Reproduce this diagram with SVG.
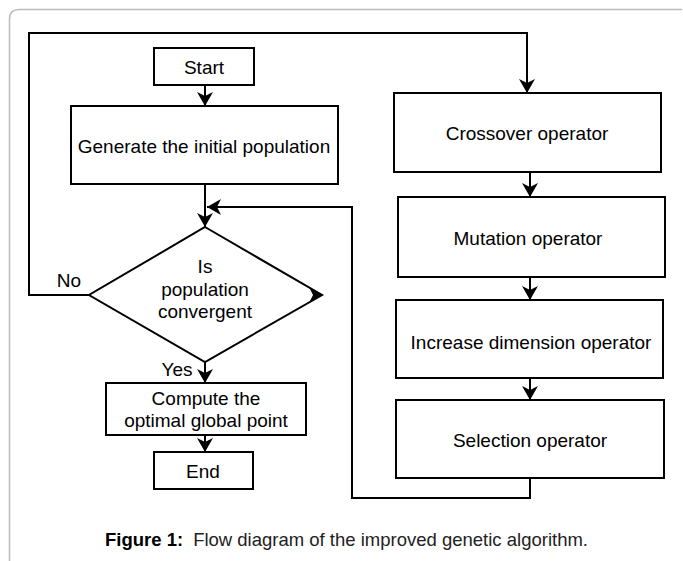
<svg xmlns="http://www.w3.org/2000/svg" width="683" height="561" viewBox="0 0 683 561">
<style>
.box{fill:#fff;stroke:#000;stroke-width:2}
.ln{fill:none;stroke:#000;stroke-width:2}
.t{font-family:"Liberation Sans",Arial,sans-serif;font-size:19px;fill:#000;text-anchor:middle}
.cap{font-family:"Liberation Sans",Arial,sans-serif;font-size:18.5px;fill:#222}
</style>
<defs>
<marker id="ah" markerUnits="userSpaceOnUse" markerWidth="16" markerHeight="18" viewBox="-14 -9 16 18" refX="0" refY="0" orient="auto">
<path d="M0,0 L-14,-8 L-10,0 L-14,8 Z" fill="#000"/>
</marker>
</defs>
<rect width="683" height="561" fill="#fff"/>
<path d="M9.5,561 V19 Q9.5,9.5 19,9.5 H682" fill="none" stroke="#bbb" stroke-width="1.5"/>
<g id="connectors">
<line class="ln" x1="205" y1="85" x2="205" y2="106" marker-end="url(#ah)"/>
<line class="ln" x1="205" y1="184" x2="205" y2="227" marker-end="url(#ah)"/>
<polyline class="ln" points="530,478 530,498 352,498 352,207 207,207" marker-end="url(#ah)"/>
<polyline class="ln" points="90,295 29,295 29,33 527,33 527,93" marker-end="url(#ah)"/>
<line class="ln" x1="205" y1="362" x2="205" y2="383" marker-end="url(#ah)"/>
<line class="ln" x1="205" y1="435" x2="205" y2="452" marker-end="url(#ah)"/>
<line class="ln" x1="530" y1="172" x2="530" y2="197" marker-end="url(#ah)"/>
<line class="ln" x1="530" y1="277" x2="530" y2="300" marker-end="url(#ah)"/>
<line class="ln" x1="530" y1="378" x2="530" y2="400" marker-end="url(#ah)"/>
<text class="t" x="69" y="287">No</text>
<text class="t" x="177" y="376">Yes</text>
</g>
<g id="start"><rect class="box" x="154" y="48" width="100" height="37"/><text class="t" x="204" y="73.5">Start</text></g>
<g id="generate"><rect class="box" x="71" y="106" width="267" height="78"/><text class="t" x="204" y="153">Generate the initial population</text></g>
<g id="decision"><polygon class="box" points="205,227 322,295 205,362 89,295"/>
<path d="M323,295 L309,287 L313,295 L309,303 Z" fill="#000"/>
<text class="t" x="205" y="273">Is</text><text class="t" x="205" y="296">population</text><text class="t" x="205" y="318">convergent</text></g>
<g id="compute"><rect class="box" x="106" y="383" width="200" height="52"/><text class="t" x="206" y="405">Compute the</text><text class="t" x="206" y="427">optimal global point</text></g>
<g id="end"><rect class="box" x="154" y="452" width="99" height="37"/><text class="t" x="203" y="478">End</text></g>
<g id="crossover"><rect class="box" x="394" y="93" width="267" height="79"/><text class="t" x="527" y="140">Crossover operator</text></g>
<g id="mutation"><rect class="box" x="398" y="197" width="267" height="80"/><text class="t" x="528" y="245">Mutation operator</text></g>
<g id="increase"><rect class="box" x="396" y="300" width="267" height="78"/><text class="t" x="531" y="349">Increase dimension operator</text></g>
<g id="selection"><rect class="box" x="396" y="400" width="268" height="78"/><text class="t" x="530" y="447">Selection operator</text></g>
<text class="cap" x="105" y="546"><tspan font-weight="bold" fill="#000">Figure 1:</tspan><tspan dx="10">Flow diagram of the improved genetic algorithm.</tspan></text>
</svg>
